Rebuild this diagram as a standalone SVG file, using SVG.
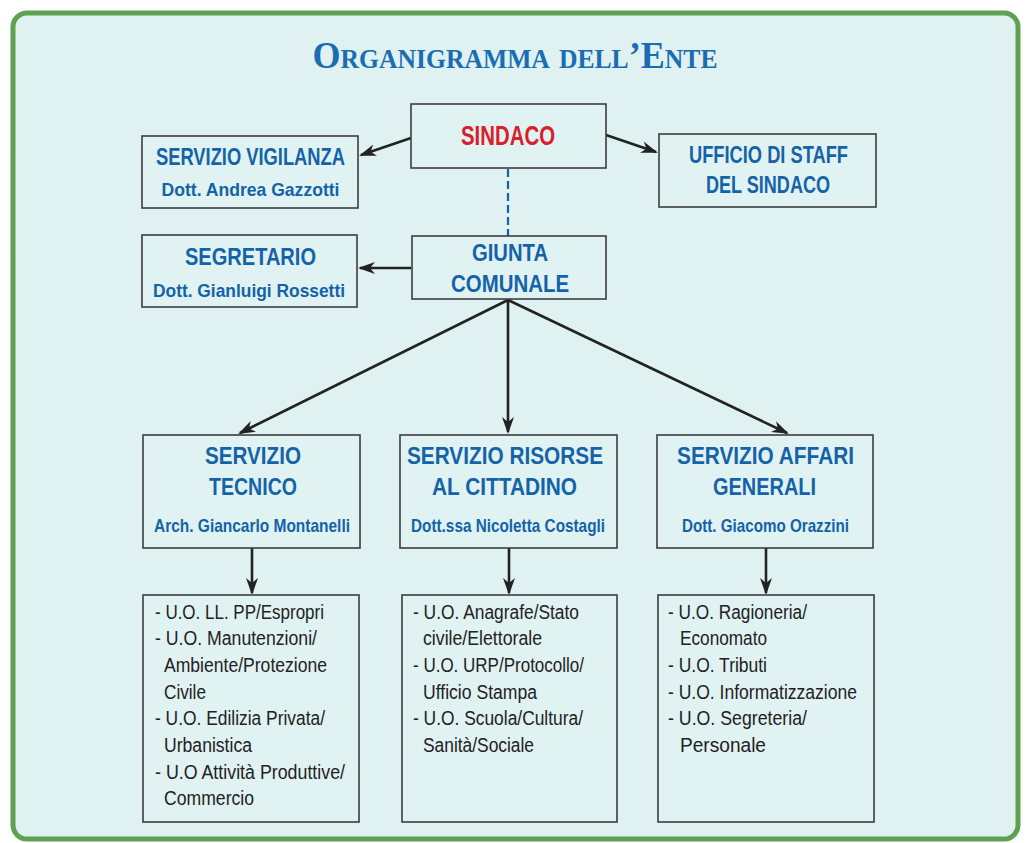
<svg xmlns="http://www.w3.org/2000/svg" width="1030" height="843" viewBox="0 0 1030 843">
<style>
.box{fill:#e0f2f2;stroke:#3c3c3c;stroke-width:1.6}
.h{font-family:"Liberation Sans",Arial,sans-serif;font-weight:bold;fill:#1463a8;text-anchor:middle}
.h1{font-size:24px}
.h2{font-size:19px}
.li{font-family:"Liberation Sans",Arial,sans-serif;font-size:19.5px;fill:#222}
.c{fill:none;stroke:#222;stroke-width:2.6}
</style>
<defs>
<marker id="ah" viewBox="0 0 17 12" refX="15" refY="6" markerWidth="17" markerHeight="12" markerUnits="userSpaceOnUse" orient="auto">
<path d="M0,0 L17,6 L0,12 L5,6 z" fill="#222"/>
</marker>
</defs>
<rect x="0" y="0" width="1030" height="843" fill="#ffffff"/>
<rect x="13" y="13" width="1005" height="826" rx="14" fill="#dff1f1" stroke="#5ea152" stroke-width="5"/>
<text x="515" y="68" font-family="'Liberation Serif',serif" font-weight="bold" font-size="38" font-variant="small-caps" style="font-variant:small-caps" fill="#1a6db3" text-anchor="middle" textLength="405" lengthAdjust="spacingAndGlyphs">Organigramma dell’Ente</text>

<g id="connectors">
<line class="c" x1="411" y1="138" x2="361" y2="155" marker-end="url(#ah)"/>
<line class="c" x1="606" y1="135" x2="656" y2="152" marker-end="url(#ah)"/>
<line x1="508" y1="169" x2="508" y2="236" stroke="#1463a8" stroke-width="2.2" stroke-dasharray="8,4"/>
<line class="c" x1="411" y1="268" x2="360" y2="268" marker-end="url(#ah)"/>
<line class="c" x1="508" y1="300" x2="240" y2="433" marker-end="url(#ah)"/>
<line class="c" x1="508" y1="300" x2="508" y2="432" marker-end="url(#ah)"/>
<line class="c" x1="508" y1="300" x2="787" y2="433" marker-end="url(#ah)"/>
<line class="c" x1="252" y1="548" x2="252" y2="593" marker-end="url(#ah)"/>
<line class="c" x1="509" y1="548" x2="509" y2="593" marker-end="url(#ah)"/>
<line class="c" x1="766" y1="548" x2="766" y2="593" marker-end="url(#ah)"/>
</g>

<g id="sindaco">
<rect class="box" x="411" y="104" width="195" height="64"/>
<text class="h" x="508" y="145" font-size="28" style="fill:#d8202a" textLength="94" lengthAdjust="spacingAndGlyphs">SINDACO</text>
</g>
<g id="vigilanza">
<rect class="box" x="142" y="136" width="216" height="72"/>
<text class="h h1" x="250.5" y="165" textLength="189" lengthAdjust="spacingAndGlyphs">SERVIZIO VIGILANZA</text>
<text class="h h2" x="250.5" y="196" textLength="178" lengthAdjust="spacingAndGlyphs">Dott. Andrea Gazzotti</text>
</g>
<g id="staff">
<rect class="box" x="659" y="134" width="217" height="73"/>
<text class="h h1" x="768.5" y="163" textLength="159" lengthAdjust="spacingAndGlyphs">UFFICIO DI STAFF</text>
<text class="h h1" x="768" y="193" textLength="124" lengthAdjust="spacingAndGlyphs">DEL SINDACO</text>
</g>
<g id="segretario">
<rect class="box" x="142" y="235" width="215" height="72"/>
<text class="h h1" x="250.5" y="265" textLength="131" lengthAdjust="spacingAndGlyphs">SEGRETARIO</text>
<text class="h h2" x="249" y="297" textLength="192" lengthAdjust="spacingAndGlyphs">Dott. Gianluigi Rossetti</text>
</g>
<g id="giunta">
<rect class="box" x="412" y="236" width="194" height="63"/>
<text class="h h1" x="510" y="261" textLength="76" lengthAdjust="spacingAndGlyphs">GIUNTA</text>
<text class="h h1" x="510" y="292" textLength="118" lengthAdjust="spacingAndGlyphs">COMUNALE</text>
</g>
<g id="tecnico">
<rect class="box" x="143" y="435" width="217" height="113"/>
<text class="h h1" x="253" y="464" textLength="96" lengthAdjust="spacingAndGlyphs">SERVIZIO</text>
<text class="h h1" x="253" y="495" textLength="88" lengthAdjust="spacingAndGlyphs">TECNICO</text>
<text class="h h2" x="252" y="532" textLength="196" lengthAdjust="spacingAndGlyphs">Arch. Giancarlo Montanelli</text>
</g>
<g id="risorse">
<rect class="box" x="400" y="435" width="217" height="113"/>
<text class="h h1" x="505" y="464" textLength="196" lengthAdjust="spacingAndGlyphs">SERVIZIO RISORSE</text>
<text class="h h1" x="504.5" y="495" textLength="145" lengthAdjust="spacingAndGlyphs">AL CITTADINO</text>
<text class="h h2" x="508" y="532" textLength="194" lengthAdjust="spacingAndGlyphs">Dott.ssa Nicoletta Costagli</text>
</g>
<g id="affari">
<rect class="box" x="657" y="435" width="216" height="113"/>
<text class="h h1" x="765.5" y="464" textLength="177" lengthAdjust="spacingAndGlyphs">SERVIZIO AFFARI</text>
<text class="h h1" x="764.5" y="495" textLength="103" lengthAdjust="spacingAndGlyphs">GENERALI</text>
<text class="h h2" x="765.5" y="532" textLength="167" lengthAdjust="spacingAndGlyphs">Dott. Giacomo Orazzini</text>
</g>
<g id="uo-tecnico">
<rect class="box" x="143" y="595" width="216" height="227"/>
<text class="li" x="155" y="619" textLength="169" lengthAdjust="spacingAndGlyphs">- U.O. LL. PP/Espropri</text>
<text class="li" x="155" y="645" textLength="162" lengthAdjust="spacingAndGlyphs">- U.O. Manutenzioni/</text>
<text class="li" x="164" y="672" textLength="163" lengthAdjust="spacingAndGlyphs">Ambiente/Protezione</text>
<text class="li" x="164" y="699" textLength="42" lengthAdjust="spacingAndGlyphs">Civile</text>
<text class="li" x="155" y="725" textLength="170" lengthAdjust="spacingAndGlyphs">- U.O. Edilizia Privata/</text>
<text class="li" x="164" y="752" textLength="88" lengthAdjust="spacingAndGlyphs">Urbanistica</text>
<text class="li" x="155" y="779" textLength="190" lengthAdjust="spacingAndGlyphs">- U.O Attività Produttive/</text>
<text class="li" x="164" y="805" textLength="90" lengthAdjust="spacingAndGlyphs">Commercio</text>
</g>
<g id="uo-risorse">
<rect class="box" x="402" y="595" width="215" height="227"/>
<text class="li" x="413" y="619" textLength="166" lengthAdjust="spacingAndGlyphs">- U.O. Anagrafe/Stato</text>
<text class="li" x="423" y="645" textLength="119" lengthAdjust="spacingAndGlyphs">civile/Elettorale</text>
<text class="li" x="413" y="672" textLength="171" lengthAdjust="spacingAndGlyphs">- U.O. URP/Protocollo/</text>
<text class="li" x="423" y="699" textLength="114" lengthAdjust="spacingAndGlyphs">Ufficio Stampa</text>
<text class="li" x="413" y="725" textLength="170" lengthAdjust="spacingAndGlyphs">- U.O. Scuola/Cultura/</text>
<text class="li" x="423" y="752" textLength="111" lengthAdjust="spacingAndGlyphs">Sanità/Sociale</text>
</g>
<g id="uo-affari">
<rect class="box" x="658" y="595" width="216" height="227"/>
<text class="li" x="668" y="619" textLength="139" lengthAdjust="spacingAndGlyphs">- U.O. Ragioneria/</text>
<text class="li" x="680" y="645" textLength="87" lengthAdjust="spacingAndGlyphs">Economato</text>
<text class="li" x="668" y="672" textLength="99" lengthAdjust="spacingAndGlyphs">- U.O. Tributi</text>
<text class="li" x="668" y="699" textLength="189" lengthAdjust="spacingAndGlyphs">- U.O. Informatizzazione</text>
<text class="li" x="668" y="725" textLength="139" lengthAdjust="spacingAndGlyphs">- U.O. Segreteria/</text>
<text class="li" x="680" y="752" textLength="86" lengthAdjust="spacingAndGlyphs">Personale</text>
</g>
</svg>
